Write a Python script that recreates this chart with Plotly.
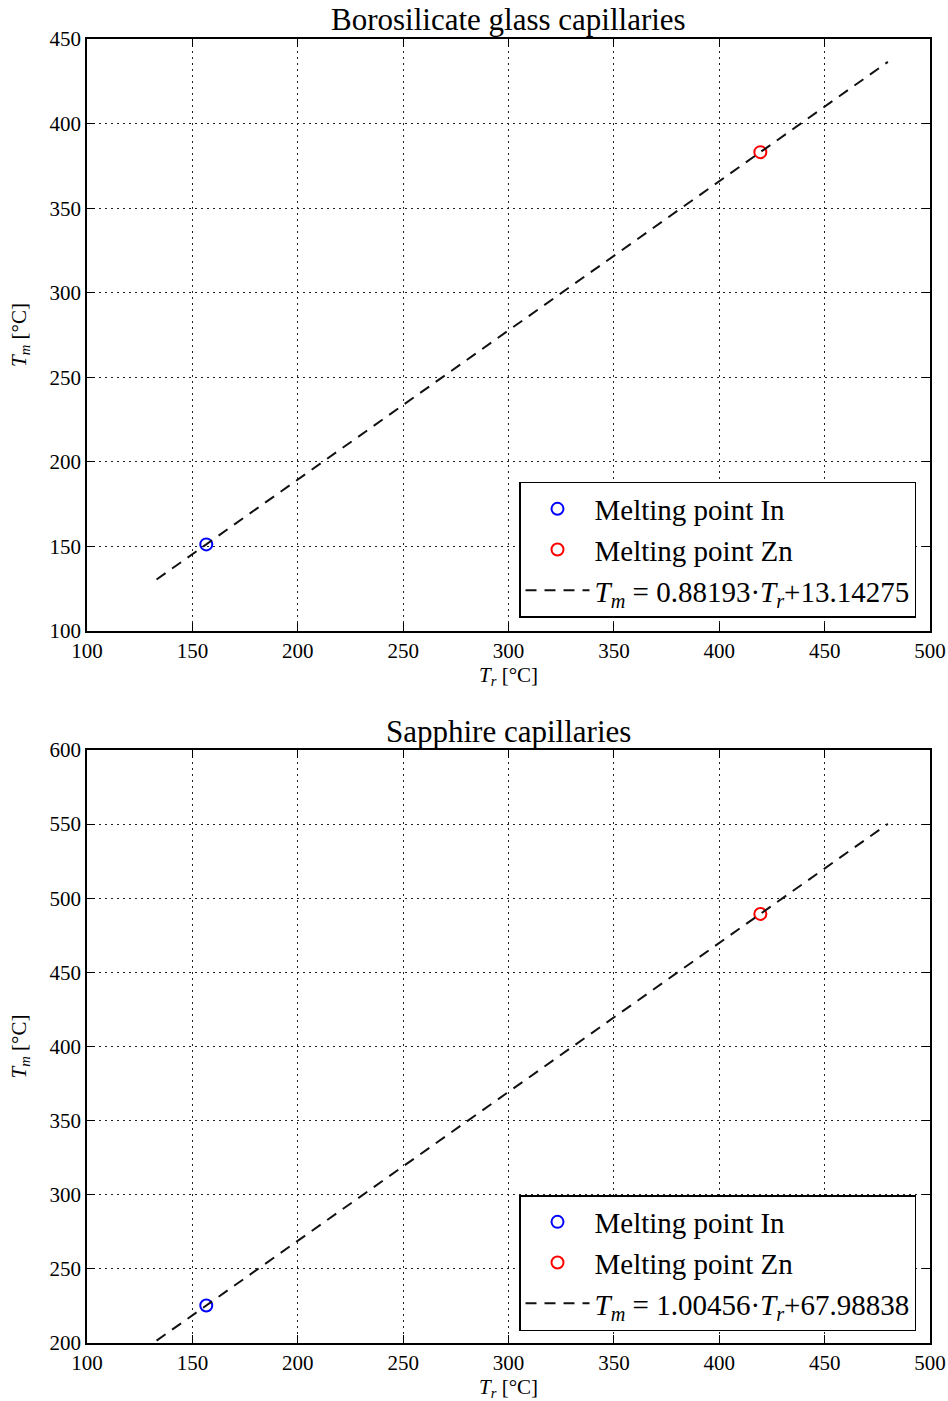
import plotly.graph_objects as go

# Reference melting points of the calibration metals (x axis, °C)
t_ref_in = [156.6]
t_ref_zn = [419.5]

# Measured melting temperatures (y axis, °C)
boro_tm_in = [151.2]
boro_tm_zn = [383.1]
sapph_tm_in = [225.3]
sapph_tm_zn = [489.4]

# Linear calibration fits: T_m = slope * T_r + intercept
boro_slope, boro_icpt = 0.88193, 13.14275
sapph_slope, sapph_icpt = 1.00456, 67.98838
fit_x = [133, 480]

x_ticks = [100, 150, 200, 250, 300, 350, 400, 450, 500]
boro_y_ticks = [100, 150, 200, 250, 300, 350, 400, 450]
sapph_y_ticks = [200, 250, 300, 350, 400, 450, 500, 550, 600]

titles = ["Borosilicate glass capillaries", "Sapphire capillaries"]

FONT = "Liberation Serif"
BLUE = "#0000ff"
RED = "#ff0000"

fig = go.Figure()


def fit_label(slope, icpt):
    return ("<i>T</i><sub><i>m</i></sub> = %.5f·<i>T</i><sub><i>r</i></sub>+%.5f"
            % (slope, icpt))


panels = [
    ("x", "y", "legend", boro_tm_in, boro_tm_zn, boro_slope, boro_icpt),
    ("x2", "y2", "legend2", sapph_tm_in, sapph_tm_zn, sapph_slope, sapph_icpt),
]

for xa, ya, leg, tm_in, tm_zn, slope, icpt in panels:
    fig.add_trace(go.Scatter(
        x=t_ref_in, y=tm_in, mode="markers", name="Melting point In",
        marker=dict(symbol="circle-open", size=12, color=BLUE,
                    line=dict(width=2, color=BLUE)),
        xaxis=xa, yaxis=ya, legend=leg))
    fig.add_trace(go.Scatter(
        x=t_ref_zn, y=tm_zn, mode="markers", name="Melting point Zn",
        marker=dict(symbol="circle-open", size=12, color=RED,
                    line=dict(width=2, color=RED)),
        xaxis=xa, yaxis=ya, legend=leg))
    fig.add_trace(go.Scatter(
        x=fit_x, y=[slope * v + icpt for v in fit_x], mode="lines",
        name=fit_label(slope, icpt),
        line=dict(color="#111111", width=2, dash="11px,8px"),
        xaxis=xa, yaxis=ya, legend=leg))

axis_common = dict(
    showline=True, linecolor="black", linewidth=1.6, mirror="ticks",
    ticks="inside", ticklen=8, tickwidth=1, tickcolor="black",
    showgrid=True, gridcolor="#222222", gridwidth=1, griddash="2px,4px",
    zeroline=False, automargin=False,
    tickfont=dict(family=FONT, size=21, color="black"),
)

x_title = "<i>T</i><sub><i>r</i></sub> [°C]"
y_title = "<i>T</i><sub><i>m</i></sub> [°C]"

top_dom = [0.546, 1.0]
bot_dom = [0.0, 0.4548]

legend_common = dict(
    x=0.9834, xanchor="right", yanchor="bottom",
    bgcolor="white", bordercolor="black", borderwidth=1.5,
    font=dict(family=FONT, size=29, color="black"),
    tracegroupgap=0, itemwidth=64,
)

fig.update_layout(
    width=948, height=1401,
    margin=dict(l=87, r=18, t=39, b=58),
    paper_bgcolor="white", plot_bgcolor="white",
    font=dict(family=FONT, color="black"),
    showlegend=True,
    xaxis=dict(axis_common, domain=[0, 1], anchor="y", range=[100, 500],
               tickvals=x_ticks),
    yaxis=dict(axis_common, domain=top_dom, anchor="x", range=[100, 450],
               tickvals=boro_y_ticks),
    xaxis2=dict(axis_common, domain=[0, 1], anchor="y2", range=[100, 500],
                tickvals=x_ticks),
    yaxis2=dict(axis_common, domain=bot_dom, anchor="x2", range=[200, 600],
                tickvals=sapph_y_ticks),
    legend=dict(legend_common, y=0.556),
    legend2=dict(legend_common, y=0.0092),
)

# Panel titles
fig.add_annotation(text=titles[0], xref="paper", yref="paper", x=0.5,
                   y=1.0146, yanchor="middle", showarrow=False,
                   font=dict(family=FONT, size=31, color="black"))
fig.add_annotation(text=titles[1], xref="paper", yref="paper", x=0.5,
                   y=0.469, yanchor="middle", showarrow=False,
                   font=dict(family=FONT, size=31, color="black"))

# Axis titles
for ypos in (0.5115, -0.0345):
    fig.add_annotation(text=x_title, xref="paper", yref="paper", x=0.5,
                       y=ypos, yanchor="middle", showarrow=False,
                       font=dict(family=FONT, size=21, color="black"))
for dom in (top_dom, bot_dom):
    fig.add_annotation(text=y_title, xref="paper", yref="paper",
                       x=-0.0795, xanchor="center",
                       y=(dom[0] + dom[1]) / 2, yanchor="middle",
                       textangle=-90, showarrow=False,
                       font=dict(family=FONT, size=21, color="black"))

fig.write_html("out.html")
